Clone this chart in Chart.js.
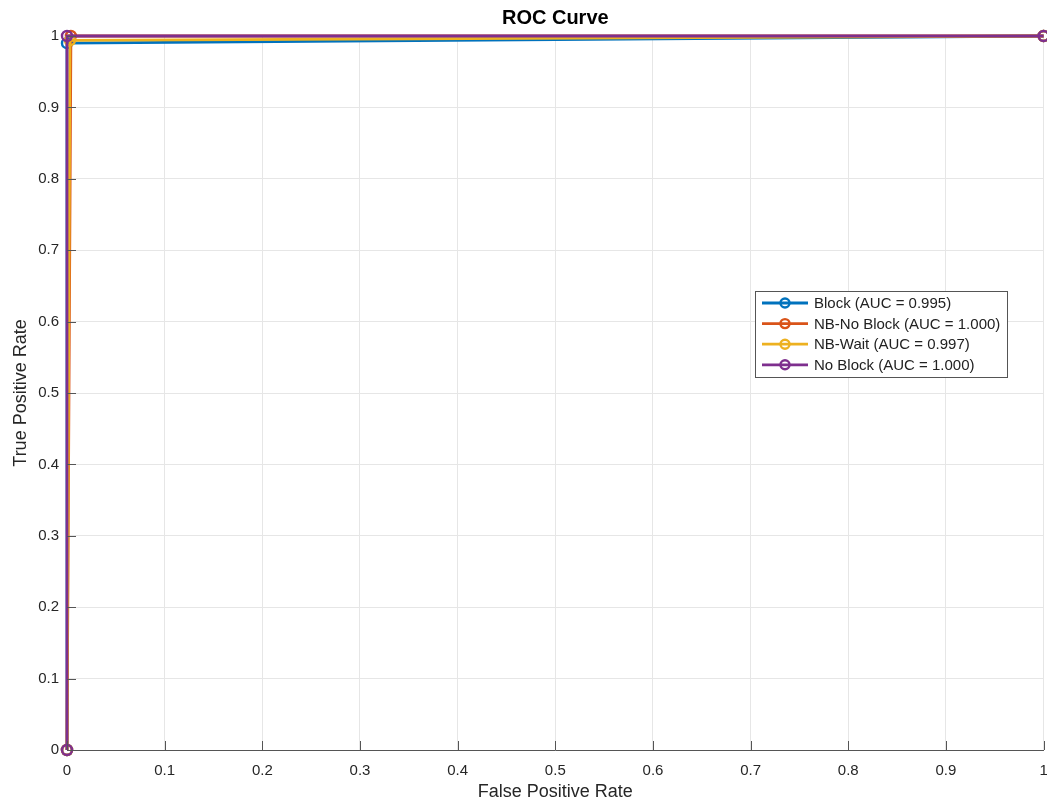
<!DOCTYPE html>
<html>
<head>
<meta charset="utf-8">
<script src="https://cdn.jsdelivr.net/npm/chart.js@4.4.0/dist/chart.umd.min.js"></script>
<style>
  html, body { margin: 0; padding: 0; background: #fff; overflow: hidden; }
  #wrap { width: 1051px; height: 806px; }
</style>
</head>
<body>
<div id="wrap"><canvas id="roc" width="1051" height="806"></canvas></div>
<script>
// ROC verileri (resimden okunan noktalar)
const seriesNames = ['Block (AUC = 0.995)', 'NB-No Block (AUC = 1.000)', 'NB-Wait (AUC = 0.997)', 'No Block (AUC = 1.000)'];
const seriesColors = ['#0072BD', '#D95319', '#EDB120', '#7E2F8E'];

const blockFpr = [0, 0, 1];
const blockTpr = [0, 0.99, 1];
const nbNoBlockFpr = [0, 0.004, 1];
const nbNoBlockTpr = [0, 1, 1];
const nbWaitFpr = [0, 0.003, 1];
const nbWaitTpr = [0, 0.994, 1];
const noBlockFpr = [0, 0, 1];
const noBlockTpr = [0, 1, 1];

const tickValues = [0, 0.1, 0.2, 0.3, 0.4, 0.5, 0.6, 0.7, 0.8, 0.9, 1];

const allFpr = [blockFpr, nbNoBlockFpr, nbWaitFpr, noBlockFpr];
const allTpr = [blockTpr, nbNoBlockTpr, nbWaitTpr, noBlockTpr];

const FONT = 'Liberation Sans, Arial, Helvetica, sans-serif';

function toPoints(xs, ys) {
    return xs.map((x, i) => ({ x: x, y: ys[i] }));
}

// son seri en üstte çizilsin diye order ters veriliyor
const datasets = seriesNames.map((name, i) => ({
    label: name,
    data: toPoints(allFpr[i], allTpr[i]),
    order: seriesNames.length - 1 - i,
    showLine: true,
    borderColor: seriesColors[i],
    borderWidth: 2.8,
    pointRadius: 5,
    pointBorderWidth: 2.4,
    pointBorderColor: seriesColors[i],
    pointBackgroundColor: 'rgba(255,255,255,0)',
    clip: false
}));

// MATLAB tarzı iç tikler, başlık ve lejant
const matlabDecor = {
    id: 'matlabDecor',
    afterDraw(chart) {
        const ctx = chart.ctx;
        const a = chart.chartArea;
        const xs = chart.scales.x;
        const ys = chart.scales.y;
        ctx.save();

        ctx.strokeStyle = '#555';
        ctx.lineWidth = 1;
        tickValues.forEach(v => {
            const px = Math.round(xs.getPixelForValue(v)) + 0.5;
            ctx.beginPath();
            ctx.moveTo(px, a.bottom);
            ctx.lineTo(px, a.bottom - 9);
            ctx.stroke();
            const py = Math.round(ys.getPixelForValue(v)) + 0.5;
            ctx.beginPath();
            ctx.moveTo(a.left, py);
            ctx.lineTo(a.left + 9, py);
            ctx.stroke();
        });

        // başlık
        ctx.fillStyle = '#000';
        ctx.font = 'bold 20px ' + FONT;
        ctx.textAlign = 'center';
        ctx.textBaseline = 'middle';
        ctx.fillText('ROC Curve', (a.left + a.right) / 2, 18);

        // lejant
        const lx = 755, ly = 291, lw = 252, lh = 86;
        ctx.fillStyle = '#fff';
        ctx.fillRect(lx, ly, lw, lh);
        ctx.strokeStyle = '#555';
        ctx.lineWidth = 1;
        ctx.strokeRect(lx + 0.5, ly + 0.5, lw, lh);
        ctx.font = '15px ' + FONT;
        ctx.textAlign = 'left';
        chart.data.datasets.forEach((ds, i) => {
            const cy = ly + 12 + i * 20.6;
            ctx.strokeStyle = ds.borderColor;
            ctx.lineWidth = 2.8;
            ctx.beginPath();
            ctx.moveTo(lx + 7, cy);
            ctx.lineTo(lx + 53, cy);
            ctx.stroke();
            ctx.lineWidth = 2.4;
            ctx.beginPath();
            ctx.arc(lx + 30, cy, 4.5, 0, Math.PI * 2);
            ctx.stroke();
            ctx.fillStyle = '#222';
            ctx.fillText(ds.label, lx + 59, cy + 1);
        });
        ctx.restore();
    }
};

const axisBorder = { display: true, color: '#555', width: 1 };

new Chart(document.getElementById('roc'), {
    type: 'scatter',
    data: { datasets: datasets },
    options: {
        responsive: false,
        animation: false,
        layout: { padding: { top: 36, right: 0, left: 0, bottom: 0 } },
        plugins: {
            legend: { display: false },
            title: { display: false },
            tooltip: { enabled: false }
        },
        scales: {
            x: {
                type: 'linear',
                min: 0,
                max: 1,
                afterFit: s => { s.height = 56; s.paddingLeft = 0; s.paddingRight = 0; },
                afterBuildTicks: s => { s.ticks = tickValues.map(v => ({ value: v })); },
                grid: { color: '#e6e6e6', drawTicks: false },
                border: axisBorder,
                ticks: {
                    padding: 12,
                    color: '#262626',
                    font: { family: FONT, size: 15 },
                    maxRotation: 0,
                    callback: v => String(+v.toFixed(1))
                },
                title: {
                    display: true,
                    text: 'False Positive Rate',
                    color: '#262626',
                    font: { family: FONT, size: 18 },
                    padding: { top: 0, bottom: 3 }
                }
            },
            y: {
                type: 'linear',
                min: 0,
                max: 1,
                afterFit: s => { s.width = 67; s.paddingTop = 0; s.paddingBottom = 0; },
                afterBuildTicks: s => { s.ticks = tickValues.map(v => ({ value: v })); },
                grid: { color: '#e6e6e6', drawTicks: false },
                border: axisBorder,
                ticks: {
                    padding: 8,
                    color: '#262626',
                    font: { family: FONT, size: 15 },
                    callback: v => String(+v.toFixed(1))
                },
                title: {
                    display: true,
                    text: 'True Positive Rate',
                    color: '#262626',
                    font: { family: FONT, size: 18 },
                    padding: { top: 10, bottom: 0 }
                }
            }
        }
    },
    plugins: [matlabDecor]
});
</script>
</body>
</html>
